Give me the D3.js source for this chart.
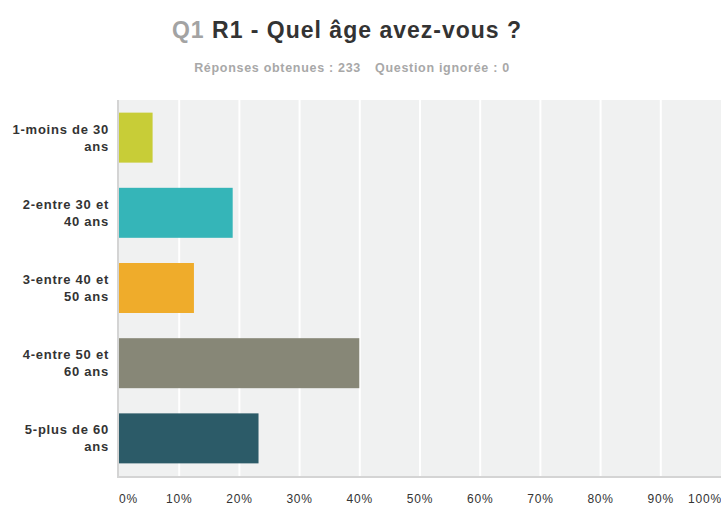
<!DOCTYPE html>
<html>
<head>
<meta charset="utf-8">
<script src="https://cdn.jsdelivr.net/npm/d3@7"></script>
<style>
body{margin:0;background:#fff;}
svg{display:block;font-family:"Liberation Sans",Arial,sans-serif;}
.label{font-weight:bold;font-size:13px;fill:#333;letter-spacing:0.75px;}
.tick{font-size:12px;fill:#333;letter-spacing:0.8px;}
</style>
</head>
<body>
<svg id="graph"></svg>
<script>
var categories=[["1-moins de 30","ans"],["2-entre 30 et","40 ans"],["3-entre 40 et","50 ans"],["4-entre 50 et","60 ans"],["5-plus de 60","ans"]]
var counts=[13,44,29,93,54]
var total=233
var ignored=0
var colors=["#c8cd37","#35b5b8","#efac2b","#878777","#2c5b68"]
var ticks=[0,10,20,30,40,50,60,70,80,90,100]

var screen={width:721,height:505}
var margins={left:119,right:0,top:100,bottom:29}
var graph=
    {
        width:screen.width-margins.left-margins.right,
        height:screen.height-margins.top-margins.bottom
    }

var svg=d3.select("#graph")
    .attr("width",screen.width)
    .attr("height",screen.height)

var xScale=d3.scaleLinear()
    .domain([0,100])
    .range([0,graph.width])

var yScale=d3.scaleBand()
    .domain(d3.range(counts.length))
    .range([0,graph.height])
    .paddingInner(0.335)
    .paddingOuter(0.168)

// titre
var title=svg.append("text")
    .attr("x",347)
    .attr("y",38)
    .attr("text-anchor","middle")
    .style("font-size","23px")
    .style("font-weight","bold")
    .style("letter-spacing","1px")
title.append("tspan").text("Q1 ").attr("fill","#a3a3a3")
title.append("tspan").text("R1 - Quel âge avez-vous ?").attr("fill","#333")

var sub=svg.append("text")
    .attr("x",352)
    .attr("y",72)
    .attr("text-anchor","middle")
    .style("font-size","12.5px")
    .style("font-weight","bold")
    .style("letter-spacing","0.7px")
    .attr("fill","#a8a8a8")
sub.append("tspan").text("Réponses obtenues : "+total)
sub.append("tspan").attr("dx",14).text("Question ignorée : "+ignored)

var target=svg.append("g")
    .attr("transform","translate("+margins.left+","+margins.top+")")

target.append("rect")
    .attr("x",-1)
    .attr("y",0)
    .attr("width",graph.width+1)
    .attr("height",graph.height)
    .attr("fill","#f0f1f1")

target.selectAll("line.grid")
    .data(ticks.slice(1,-1))
    .enter()
    .append("line")
    .classed("grid",true)
    .attr("x1",function(t){return xScale(t)})
    .attr("x2",function(t){return xScale(t)})
    .attr("y1",0)
    .attr("y2",graph.height)
    .attr("stroke","#fff")
    .attr("stroke-width",2)

target.selectAll("rect.bar")
    .data(counts)
    .enter()
    .append("rect")
    .classed("bar",true)
    .attr("x",0)
    .attr("y",function(d,i){return yScale(i)})
    .attr("width",function(d){return xScale(d/total*100)})
    .attr("height",yScale.bandwidth())
    .attr("fill",function(d,i){return colors[i]})

// axes
target.append("line")
    .attr("x1",-1).attr("x2",-1)
    .attr("y1",0).attr("y2",graph.height)
    .attr("stroke","#d4d4d4").attr("stroke-width",2)
target.append("line")
    .attr("x1",-2).attr("x2",graph.width)
    .attr("y1",graph.height+1).attr("y2",graph.height+1)
    .attr("stroke","#d4d4d4").attr("stroke-width",2)

target.selectAll("text.tick")
    .data(ticks)
    .enter()
    .append("text")
    .classed("tick",true)
    .attr("x",function(t,i){return xScale(t)+(i==ticks.length-1?1:0)})
    .attr("y",graph.height+27)
    .attr("text-anchor",function(t,i){return i==0?"start":(i==ticks.length-1?"end":"middle")})
    .text(function(t){return t+"%"})

var labels=target.selectAll("text.label")
    .data(categories)
    .enter()
    .append("text")
    .classed("label",true)
    .attr("text-anchor","end")
    .attr("transform",function(d,i){return "translate(-10,"+(yScale(i)+yScale.bandwidth()/2)+")"})
labels.selectAll("tspan")
    .data(function(d){return d})
    .enter()
    .append("tspan")
    .attr("x",0)
    .attr("y",function(d,j){return j==0?-4:13})
    .text(function(d){return d})
</script>
</body>
</html>
